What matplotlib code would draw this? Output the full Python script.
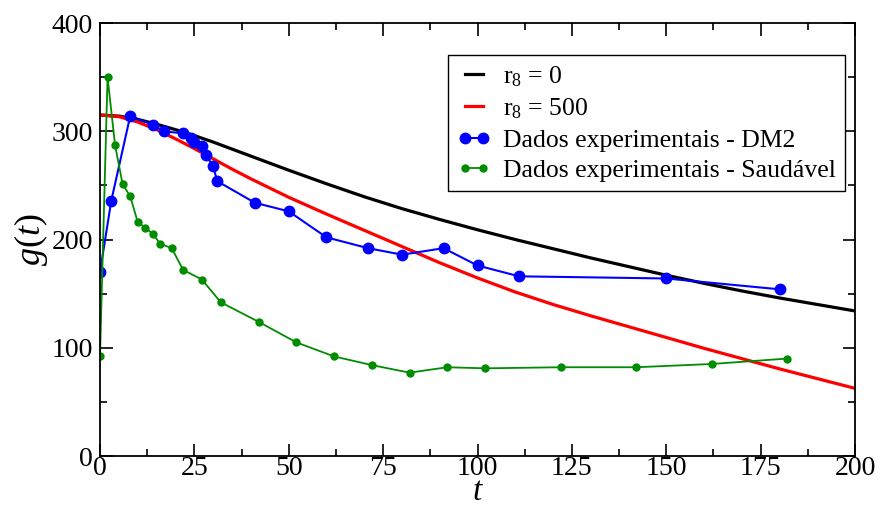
import numpy as np
import matplotlib
matplotlib.use("Agg")
import matplotlib.pyplot as plt
from matplotlib.ticker import MultipleLocator

plt.rcParams['font.family'] = ['Liberation Serif', 'DejaVu Serif']
plt.rcParams['mathtext.fontset'] = 'custom'
plt.rcParams['mathtext.rm'] = 'Liberation Serif'
plt.rcParams['mathtext.it'] = 'Liberation Serif:italic'

# curvas do modelo
t_mod = [0, 5, 10, 15, 20, 25, 30, 35, 40, 50, 60, 70, 80, 90, 100,
         110, 120, 130, 140, 150, 160, 170, 180, 190, 200]
g_r0 = [315, 314, 311, 306.5, 301.5, 296, 290, 283.5, 277, 264, 251.5, 239.5, 228.5, 218.5, 209,
        200, 191.5, 183, 175, 167, 159.5, 152.5, 146, 140, 134]
g_r500 = [315, 313.5, 308.5, 301.5, 293, 284, 274.5, 265, 256, 239, 223.5, 208.5, 193.5, 178.5, 164.5,
          151.5, 140, 129.5, 119.5, 109.5, 99.5, 90, 80.5, 71.5, 62.5]

# dados experimentais
t_dm2 = [0, 3, 8, 14, 17, 22, 24, 25, 27, 28, 30, 31, 41, 50, 60, 71, 80, 91, 100, 111, 150, 180]
g_dm2 = [170, 236, 314, 306, 300, 298, 294, 290, 286, 278, 268, 254, 234, 226, 202, 192, 186,
         192, 176, 166, 164, 154]

t_saud = [0, 2, 4, 6, 8, 10, 12, 14, 16, 19, 22, 27, 32, 42, 52, 62, 72, 82, 92, 102,
          122, 142, 162, 182]
g_saud = [92, 350, 287, 251, 240, 216, 211, 205, 196, 192, 172, 163, 142, 124, 105, 92, 84,
          77, 82, 81, 82, 82, 85, 90]

fig = plt.figure(figsize=(8.81, 5.09), dpi=100)
ax = fig.add_axes([0.1135, 0.1041, 0.857, 0.8507])

ax.plot(t_mod, g_r0, color='black', lw=2.3, label=r'r$_8$ = 0')
ax.plot(t_mod, g_r500, color='red', lw=2.3, label=r'r$_8$ = 500')
ax.plot(t_dm2, g_dm2, '-o', color='blue', lw=1.5, ms=7.5, label='Dados experimentais - DM2')
ax.plot(t_saud, g_saud, '-o', color='#008c00', lw=1.3, ms=5, label='Dados experimentais - Saudável')

ax.set_xlim(0, 200)
ax.set_ylim(0, 400)
ax.xaxis.set_major_locator(MultipleLocator(25))
ax.xaxis.set_minor_locator(MultipleLocator(12.5))
ax.yaxis.set_major_locator(MultipleLocator(100))
ax.yaxis.set_minor_locator(MultipleLocator(50))
ax.tick_params(which='both', direction='in', top=True, right=True, labelsize=20, width=1.2)
ax.tick_params(which='major', length=9)
ax.tick_params(which='minor', length=5)
ax.tick_params(axis='x', pad=0)
ax.tick_params(axis='y', pad=5)
for s in ax.spines.values():
    s.set_linewidth(1.3)

ax.set_xlabel('t', fontsize=24, style='italic', labelpad=-3)
ax.set_ylabel(r'$g(t)$', fontsize=26, labelpad=1)

leg = ax.legend(loc='upper right', bbox_to_anchor=(0.987, 0.926), borderaxespad=0,
                fontsize=18.5, numpoints=2, handlelength=1.3, handletextpad=0.5,
                labelspacing=0.3, borderpad=0.35, fancybox=False, framealpha=1)
leg.get_frame().set_edgecolor('black')
leg.get_frame().set_linewidth(1.0)

fig.savefig('out.png', dpi=100)
